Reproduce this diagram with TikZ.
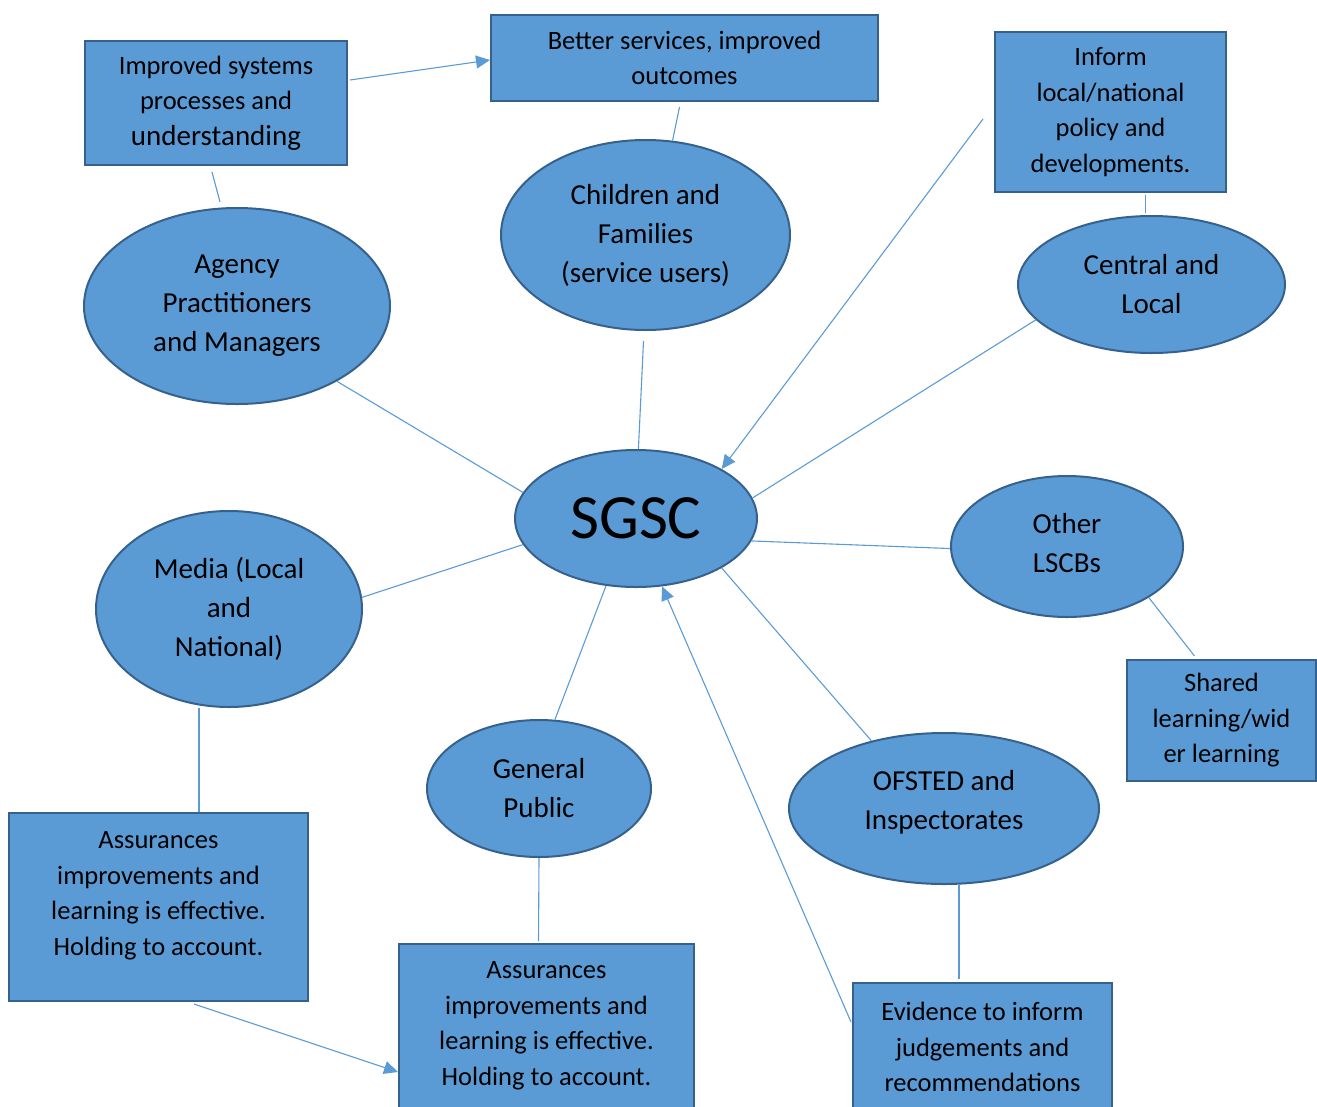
\documentclass[tikz,border=0pt]{standalone}
\usepackage{fontspec}
\setmainfont{Carlito}
\usepackage{tikz}
\usetikzlibrary{shapes.geometric,arrows.meta}
\definecolor{boxblue}{HTML}{5B9BD5}
\definecolor{boxedge}{HTML}{36618D}

\begin{document}
\begin{tikzpicture}[x=1pt,y=-1pt,>={Triangle[length=14pt,width=13pt]}]
  \tikzstyle{box}=[rectangle,draw=boxedge,line width=2pt,fill=boxblue,inner sep=0pt,align=center,font=\fontsize{26.5}{35.5}\selectfont]
  \tikzstyle{blob}=[ellipse,draw=boxedge,line width=2pt,fill=boxblue,inner sep=0pt,align=center,font=\fontsize{29}{39}\selectfont]
  \tikzstyle{every edge}=[draw=boxblue,line width=1.1pt]

  \useasboundingbox (0,0) rectangle (1317,1106);

  \node[box,minimum width=262,minimum height=124] (improved) at (216,103) {Improved systems\\processes and\\{\fontsize{29}{37}\selectfont understanding}};
  \node[box,minimum width=387,minimum height=86]  (better)   at (684.5,58)   {Better services, improved\\outcomes};
  \node[box,minimum width=231,minimum height=160] (inform)   at (1110.5,112) {Inform\\local/national\\policy and\\developments.};
  \node[box,minimum width=189,minimum height=121] (shared)   at (1221.5,720.5) {Shared\\learning/wid\\er learning};
  \node[box,minimum width=299,minimum height=188,text depth=27pt] (assur1) at (158.5,907) {Assurances\\improvements and\\learning is effective.\\Holding to account.};
  \node[box,minimum width=295,minimum height=164] (assur2)   at (546.5,1026) {Assurances\\improvements and\\learning is effective.\\Holding to account.};
  \node[box,minimum width=259,minimum height=128] (evidence) at (982.5,1047) {Evidence to inform\\judgements and\\recommendations};

  \node[blob,minimum width=306,minimum height=196] (agency)   at (237,306)     {Agency\\Practitioners\\and Managers};
  \node[blob,minimum width=289,minimum height=190] (children) at (645.5,235)   {Children and\\Families\\(service users)};
  \node[blob,minimum width=267,minimum height=137] (central)  at (1151.5,284.5) {Central and\\Local};
  \node[blob,minimum width=242,minimum height=137,font=\fontsize{63}{70}\selectfont] (sgsc) at (636,518.5) {SGSC};
  \node[blob,minimum width=232,minimum height=141,text depth=8pt] (other) at (1067,546.5) {Other\\LSCBs};
  \node[blob,minimum width=266,minimum height=196] (media)    at (229,609)     {Media (Local\\and\\National)};
  \node[blob,minimum width=224,minimum height=137] (general)  at (539,788.5)   {General\\Public};
  \node[blob,minimum width=310,minimum height=151,text depth=18pt] (ofsted) at (944,808.5) {OFSTED and\\Inspectorates};

  \coordinate (feed) at (983,119);

  \path ([shift={(2,-23)}]improved.east) edge[->] ([shift={(0,2)}]better.west)
        ([shift={(-4,6)}]improved.south) edge ([shift={(-17,-5)}]agency.north)
        ([shift={(-5,5)}]better.south) edge (children.74)
        ([shift={(35,2)}]inform.south) edge ([shift={(-6,-2)}]central.north)
        (feed) edge[->] (sgsc.30)
        (central.197) edge (sgsc.10)
        (agency.323) edge (sgsc.167)
        ([shift={(-2,10)}]children.south) edge (sgsc.88)
        (sgsc.349) edge (other.181)
        (other.328) edge ([shift={(-27,-3)}]shared.north)
        (media.5) edge (sgsc.193)
        ([shift={(-30,0)}]media.south) edge ([shift={(40.5,0)}]assur1.north)
        (sgsc.246) edge (general.77)
        (general.south) edge ([shift={(-8,-2)}]assur2.north)
        (sgsc.330) edge (ofsted.137)
        ([shift={(15,0)}]ofsted.south) edge ([shift={(-23.5,-3)}]evidence.north)
        ([shift={(-1,40)}]evidence.north west) edge[->] (sgsc.291)
        ([shift={(35.5,2)}]assur1.south) edge[->] ([shift={(0,129)}]assur2.north west);
\end{tikzpicture}
\end{document}
